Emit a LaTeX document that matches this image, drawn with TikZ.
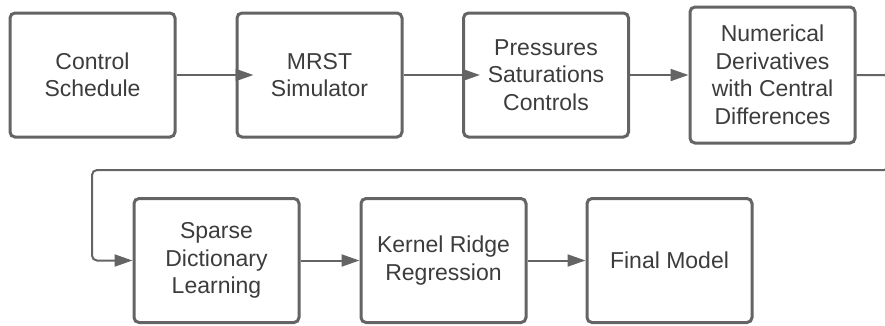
\documentclass[tikz,border=0pt]{standalone}
\usepackage{fontspec}
\setmainfont{Liberation Sans}
\usepackage{xcolor}
\usetikzlibrary{arrows.meta}
\usetikzlibrary{positioning}
\definecolor{boxline}{HTML}{646464}
\definecolor{boxtext}{HTML}{3C3C3C}
\newcommand\boxwd{3pt}
\newcommand\linkwd{2pt}
\tikzset{>={Triangle[length=18pt,width=12pt]}}
\tikzstyle{stage}  = [draw=boxline, line width=\boxwd, rounded corners=5pt,
  minimum width=165pt, minimum height=124pt, align=center, text=boxtext,
  font=\fontsize{23}{27.5}\selectfont]
\tikzstyle{link}   = [->, draw=boxline, line width=\linkwd]

\begin{document}
\begin{tikzpicture}[x=1pt, y=-1pt]
    \useasboundingbox (0, 0) rectangle (885, 325);
    % first row
    \draw (92.5, 75) node[stage] (ctrl) {Control\\Schedule};
    \draw (319.5, 75) node[stage] (mrst) {MRST\\Simulator};
    \draw (546, 75) node[stage] (states) {Pressures\\Saturations\\Controls};
    \draw (772.5, 75) node[stage, minimum height=136pt] (numder)
      {Numerical\\Derivatives\\with Central\\Differences};
    % second row
    \draw (216.5, 260.5) node[stage] (sparse) {Sparse\\Dictionary\\Learning};
    \draw (443.5, 260.5) node[stage] (krr) {Kernel Ridge\\Regression};
    \draw (669.5, 260.5) node[stage] (final) {Final Model};
    % wrap-around turn, off the right edge
    \coordinate (turnA) at (889, 75);
    \coordinate (turnB) at (889, 170);
    \coordinate (turnC) at (92, 170);
    \draw[link] (ctrl) -- ([xshift=18pt]mrst.west);
    \draw[link] (mrst) -- ([xshift=18pt]states.west);
    \draw[link] (states) -- (numder);
    \draw[link, rounded corners=5pt] (numder.east) -- (turnA) -- (turnB)
      -- (turnC) |- (sparse.west);
    \draw[link] (sparse) -- (krr);
    \draw[link] (krr) -- (final);
    \end{tikzpicture}
\end{document}
